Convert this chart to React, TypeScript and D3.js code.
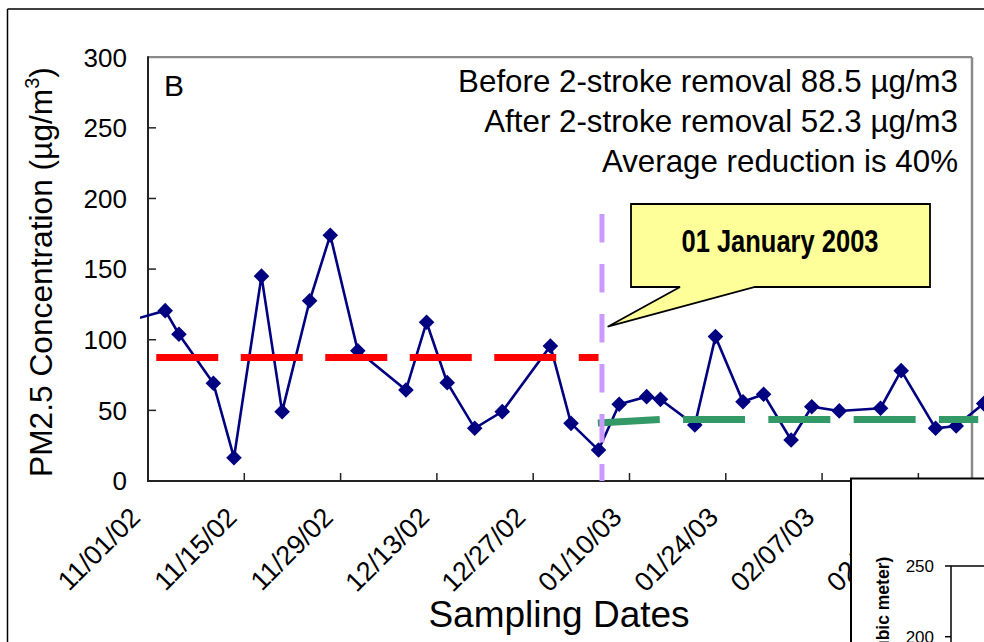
import React from "react";
import * as d3 from "d3";

// ---------- data ----------
const sampleDates = [
  "10/28/02", "11/04/02", "11/06/02", "11/11/02", "11/14/02", "11/18/02", "11/21/02",
  "11/25/02", "11/28/02", "12/02/02", "12/09/02", "12/12/02", "12/15/02", "12/19/02",
  "12/23/02", "12/30/02", "01/02/03", "01/06/03", "01/09/03", "01/13/03", "01/15/03",
  "01/20/03", "01/23/03", "01/27/03", "01/30/03", "02/03/03", "02/06/03", "02/10/03",
  "02/16/03", "02/19/03", "02/24/03", "02/27/03", "03/03/03",
];
const pm25Values = [
  111, 120.6, 103.9, 69.2, 16.5, 145, 49.1,
  127.6, 174, 92.2, 64.4, 112.4, 69.6, 37.3,
  49.1, 95.6, 40.8, 21.9, 54.3, 59.7, 57.8,
  39.6, 102.2, 56.1, 61.4, 29.0, 52.6, 49.6,
  51.5, 78.1, 37.3, 38.9, 54.8,
];
const xTickLabels = [
  "11/01/02", "11/15/02", "11/29/02", "12/13/02", "12/27/02",
  "01/10/03", "01/24/03", "02/07/03", "02/21/03",
];
const yTicks = [0, 50, 100, 150, 200, 250, 300];

// mean lines (day offsets from 11/01/02, value)
const beforeMeanDays = [1.2, 65.5];
const beforeMeanValues = [87.5, 87.5];
const afterMeanDays = [65.4, 74.4, 120.7];
const afterMeanValues = [41.0, 43.5, 43.5];

const changeDate = "01/06/03";
const changeLineTop = 189;

const statLines = [
  "Before 2-stroke removal 88.5 µg/m3",
  "After 2-stroke removal 52.3 µg/m3",
  "Average reduction is 40%",
];
const calloutText = "01 January 2003";

const insetTicks = [250, 200];

// ---------- helpers ----------
const parse = d3.utcParse("%m/%d/%y");
const origin = parse("11/01/02") as Date;
const dayOf = (s: string) => d3.utcDay.count(origin, parse(s) as Date);

const FONT = "'Liberation Sans', Arial, Helvetica, sans-serif";
const W = 984;
const H = 642;
const PL = 148, PR = 972, PT = 57.2, PB = 481;

export default function App() {
  const x = d3.scaleLinear().domain([0, 120]).range([PL, 973.4]);
  const y = d3.scaleLinear().domain([0, 300]).range([PB, PT]);
  const POINT_SHIFT = -0.5;

  const pts = sampleDates.map((d, i) => ({ day: dayOf(d), v: pm25Values[i] }));
  const line = d3
    .line<{ day: number; v: number }>()
    .x((d) => x(d.day + POINT_SHIFT))
    .y((d) => y(d.v));
  const flatLine = d3
    .line<{ day: number; v: number }>()
    .x((d) => x(d.day))
    .y((d) => y(d.v));

  const before = beforeMeanDays.map((d, i) => ({ day: d, v: beforeMeanValues[i] }));
  const after = afterMeanDays.map((d, i) => ({ day: d, v: afterMeanValues[i] }));
  const diamond = d3.symbol(d3.symbolSquare, 122)();
  const changeX = x(dayOf(changeDate));

  const insetY = d3.scaleLinear().domain([200, 250]).range([636.7, 566]);

  return (
    <svg
      width={W}
      height={H}
      style={{ position: "absolute", left: 0, top: 0, background: "#fff" }}
      fontFamily={FONT}
    >
      <defs>
        <clipPath id="seriesClip">
          <rect x={140} y={0} width={W - 140} height={H} />
        </clipPath>
      </defs>
      <rect x={0} y={0} width={W} height={H} fill="#fff" />

      {/* outer frame */}
      <line x1={7.5} y1={9} x2={W} y2={9} stroke="#000" strokeWidth={1.5} />
      <line x1={7.5} y1={9} x2={7.5} y2={H} stroke="#000" strokeWidth={1.5} />

      {/* plot border (top/right gray) */}
      <line x1={PL} y1={PT} x2={PR} y2={PT} stroke="#8a8a8a" strokeWidth={2.2} />
      <line x1={PR} y1={PT} x2={PR} y2={PB} stroke="#8a8a8a" strokeWidth={2.5} />

      {/* y axis */}
      <line x1={PL} y1={PT - 1} x2={PL} y2={PB} stroke="#222" strokeWidth={2} />
      {yTicks.map((t) => (
        <g key={t}>
          {t > 0 && t < 300 && (
            <line x1={PL} x2={PL + 8} y1={y(t)} y2={y(t)} stroke="#222" strokeWidth={1.5} />
          )}
          <text x={127} y={y(t)} dy="0.36em" textAnchor="end" fontSize={26} fill="#000">
            {t}
          </text>
        </g>
      ))}

      {/* x axis */}
      <line x1={PL - 1} y1={PB} x2={PR} y2={PB} stroke="#222" strokeWidth={2} />
      {xTickLabels.map((lab) => {
        const tx = x(dayOf(lab));
        return (
          <g key={lab}>
            {dayOf(lab) > 0 && (
              <line x1={tx} x2={tx} y1={PB} y2={PB - 8} stroke="#222" strokeWidth={1.5} />
            )}
            <text
              transform={`translate(${tx - 6},${519}) rotate(-45)`}
              textAnchor="end"
              fontSize={27}
              fill="#000"
            >
              {lab}
            </text>
          </g>
        );
      })}

      {/* axis titles */}
      <text
        transform="translate(52,272) rotate(-90)"
        textAnchor="middle"
        fontSize={31.7}
        fill="#000"
      >
        PM2.5 Concentration (µg/m
        <tspan dy={-13} fontSize={20}>
          3
        </tspan>
        <tspan dy={13}>)</tspan>
      </text>
      <text x={559} y={627} textAnchor="middle" fontSize={37} fill="#000">
        Sampling Dates
      </text>

      {/* panel label */}
      <text x={164} y={96} fontSize={30} fill="#000">
        B
      </text>

      {/* stats text */}
      {statLines.map((s, i) => (
        <text key={s} x={958} y={92 + i * 40} textAnchor="end" fontSize={31.3} fill="#000">
          {s}
        </text>
      ))}

      {/* series */}
      <g clipPath="url(#seriesClip)">
        <path d={line(pts) || ""} fill="none" stroke="#000080" strokeWidth={2.6} />
        {pts.map((p, i) => (
          <path
            key={i}
            d={diamond || ""}
            transform={`translate(${x(p.day + POINT_SHIFT)},${y(p.v)}) rotate(45)`}
            fill="#000080"
          />
        ))}
      </g>

      {/* mean lines */}
      <path
        d={flatLine(before) || ""}
        fill="none"
        stroke="#ff0000"
        strokeWidth={7}
        strokeDasharray="62 22.5"
      />
      <path
        d={flatLine(after) || ""}
        fill="none"
        stroke="#339966"
        strokeWidth={7}
        strokeDasharray="62 23.3"
      />

      {/* change marker */}
      <line
        x1={changeX}
        x2={changeX}
        y1={y(changeLineTop)}
        y2={PB}
        stroke="#cc99ff"
        strokeWidth={5}
        strokeDasharray="28.5 21.5"
      />

      {/* callout */}
      <path
        d="M631,204 L930,204 L930,287 L755,287 L607.7,326.7 L680,287 L631,287 Z"
        fill="#ffff99"
        stroke="#000"
        strokeWidth={1.8}
        strokeLinejoin="miter"
      />
      <text
        x={780}
        y={251.5}
        textAnchor="middle"
        fontSize={32}
        fontWeight="bold"
        fontFamily="'Liberation Sans Narrow', 'Arial Narrow', 'Liberation Sans', Arial, sans-serif"
        textLength={197}
        lengthAdjust="spacingAndGlyphs"
        fill="#000"
      >
        {calloutText}
      </text>

      {/* inset chart (partially visible) */}
      <rect x={851} y={478.5} width={300} height={300} fill="#fff" stroke="#000" strokeWidth={2} />
      <line x1={951} y1={566} x2={W} y2={566} stroke="#000" strokeWidth={1.5} />
      <line x1={951} y1={566} x2={951} y2={H} stroke="#000" strokeWidth={1.5} />
      {insetTicks.map((t) => (
        <g key={t}>
          <line x1={945} x2={951} y1={insetY(t)} y2={insetY(t)} stroke="#000" strokeWidth={1.5} />
          <text x={934} y={insetY(t)} dy="0.36em" textAnchor="end" fontSize={17} fill="#000">
            {t}
          </text>
        </g>
      ))}
      <text
        transform="translate(889,556.7) rotate(-90)"
        textAnchor="end"
        fontSize={17.5}
        fontWeight="bold"
        fill="#000"
      >
        PM2.5 (micrograms per cubic meter)
      </text>
    </svg>
  );
}
